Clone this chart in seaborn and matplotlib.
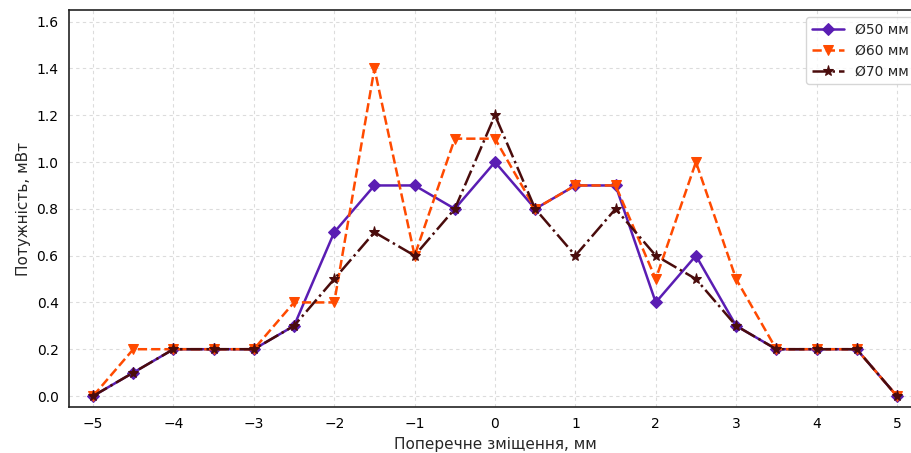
import numpy as np
import pandas as pd
import matplotlib
matplotlib.use("Agg")
import matplotlib.pyplot as plt
import seaborn as sns

# data
offset = [-5, -4.5, -4, -3.5, -3, -2.5, -2, -1.5, -1, -0.5, 0,
          0.5, 1, 1.5, 2, 2.5, 3, 3.5, 4, 4.5, 5]
power_50 = [0, 0.1, 0.2, 0.2, 0.2, 0.3, 0.7, 0.9, 0.9, 0.8, 1.0,
            0.8, 0.9, 0.9, 0.4, 0.6, 0.3, 0.2, 0.2, 0.2, 0]
power_60 = [0, 0.2, 0.2, 0.2, 0.2, 0.4, 0.4, 1.4, 0.6, 1.1, 1.1,
            0.8, 0.9, 0.9, 0.5, 1.0, 0.5, 0.2, 0.2, 0.2, 0]
power_70 = [0, 0.1, 0.2, 0.2, 0.2, 0.3, 0.5, 0.7, 0.6, 0.8, 1.2,
            0.8, 0.6, 0.8, 0.6, 0.5, 0.3, 0.2, 0.2, 0.2, 0]
labels = ["Ø50 мм", "Ø60 мм", "Ø70 мм"]

sns.set_style("white")
plt.rcParams['font.family'] = ['DejaVu Sans']

fig = plt.figure(figsize=(9.11, 4.53), dpi=100)
# axes runs past the right edge like the cropped original
ax = fig.add_axes([69 / 911, 1 - 407 / 453, 852 / 911, 397 / 453])

styles = [
    (power_50, '#5a1db3', '-', 'D', 6),
    (power_60, '#ff4a00', '--', 'v', 7),
    (power_70, '#4a0c0c', '-.', '*', 8),
]
for (vals, col, ls, mk, ms), lab in zip(styles, labels):
    sns.lineplot(x=offset, y=vals, ax=ax, color=col, linestyle=ls,
                 marker=mk, markersize=ms, markeredgecolor=col,
                 linewidth=1.8, label=lab)

ax.set_xlim(-5.3, 5.3)
ax.set_ylim(-0.047, 1.65)
ax.set_xticks(range(-5, 6))
ax.set_yticks(np.arange(0, 1.61, 0.2))
ax.set_yticklabels([f"{v:.1f}" for v in np.arange(0, 1.61, 0.2)])
ax.grid(True, linestyle=(0, (3, 3)), color='#dcdcdc', linewidth=0.8)
ax.tick_params(axis='both', direction='out', length=4, width=1, colors='black', labelsize=10)
for s in ax.spines.values():
    s.set_color('#222222')
    s.set_linewidth(1.2)

ax.set_xlabel("Поперечне зміщення, мм", fontsize=11)
ax.set_ylabel("Потужність, мВт", fontsize=11)
ax.legend(loc='upper right', fontsize=10, frameon=True, handlelength=2.3)

fig.savefig("out.png", dpi=100)
